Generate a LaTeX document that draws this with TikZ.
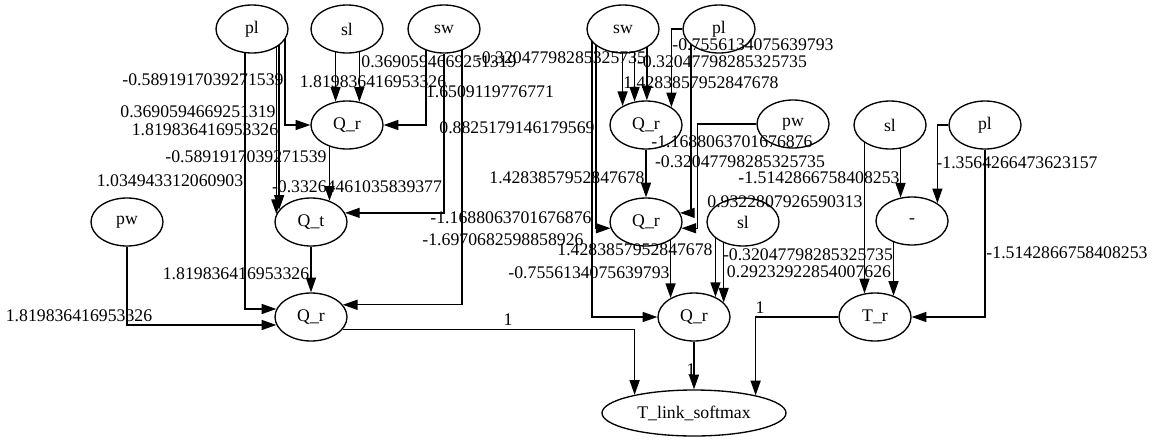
\documentclass[tikz,border=0pt]{standalone}
\usepackage{fontspec}
\setmainfont{Liberation Serif}
\usetikzlibrary{shapes.geometric,arrows.meta,calc,backgrounds}

\tikzset{
  op/.style={ellipse, draw, fill=white, line width=1pt, inner sep=0pt,
    minimum width=54pt, minimum height=36pt, font=\fontsize{13.3}{16}\selectfont},
  wt/.style={inner sep=0pt, font=\fontsize{13.3}{16}\selectfont},
  arr/.style={-{Triangle[length=11pt,width=7.5pt]}, line width=1pt},
}

\begin{document}
\begin{tikzpicture}[x=0.75pt,y=-0.75pt]
\useasboundingbox (0,0) rectangle (1155,443);
% left block
\node[op] (plA) at (252,29) {pl};
\node[op] (slA) at (347,29) {sl};
\node[op] (swA) at (444,29) {sw};
\node[op] (QrA) at (347,125) {Q\_r};
\node[op] (pwA) at (127,222) {pw};
\node[op] (Qt)  at (311,222) {Q\_t};
\node[op] (QrB) at (311,317) {Q\_r};
% middle block
\node[op] (swB) at (623,29) {sw};
\node[op] (plB) at (719,29) {pl};
\node[op] (QrC) at (646,125) {Q\_r};
\node[op] (pwB) at (793,124) {pw};
\node[op] (QrD) at (646,222) {Q\_r};
\node[op] (slB) at (743,222) {sl};
\node[op] (QrE) at (694,317) {Q\_r};
\node[op, minimum width=138pt, minimum height=34.5pt] (Tlink) at (694,413) {T\_link\_softmax};
% right block
\node[op] (slC) at (890,125) {sl};
\node[op] (plC) at (985,125) {pl};
\node[op] (minus) at (912,221) {-};
\node[op] (Tr) at (875,317) {T\_r};

\begin{pgfonlayer}{background}
% into QrA
\draw[arr] ($(plA)+(33,0)$) |- (QrA.west);
\draw[arr] (QrA.116 |- slA) -- (QrA.116);
\draw[arr] (QrA.62 |- slA) -- (QrA.62);
\draw[arr] ($(swA)+(-18,0)$) |- (QrA.east);
% into Qt
\draw[arr] (Qt.167 |- plA) -- (Qt.167);
\draw[arr] (Qt.159 |- plA) -- (Qt.159);
\draw[arr] (Qt.49 |- QrA) -- (Qt.49);
\draw[arr] (swA) |- (Qt.15);
% into QrB
\draw[arr] (Qt) -- (QrB);
\draw[arr] ($(plA)+(-7,0)$) |- (QrB.167);
\draw[arr] (pwA) |- (QrB.193);
\draw[arr] ($(swA)+(18,0)$) |- (QrB.21);
% into QrC
\draw[arr] (QrC.141 |- swB) -- (QrC.141);
\draw[arr] (QrC.116 |- swB) -- (QrC.116);
\draw[arr] (QrC.88 |- swB) -- (QrC.88);
\draw[arr] (plB) -| (QrC.35);
% into QrD
\draw[arr] (QrC) -- (QrD);
\draw[arr] ($(swB)+(-27,0)$) |- (QrD.190);
\draw[arr] ($(plB)+(-28,0)$) |- (QrD.15);
\draw[arr] (pwB.west) -- ++(-59,0) |- (QrD.350);
% into QrE
\draw[arr] (QrE.141 |- QrD) -- (QrE.141);
\draw[arr] (QrE.43 |- slB) -- (QrE.43);
\draw[arr] (QrE.26 |- slB) -- (QrE.26);
\draw[arr] ($(swB)+(-31,0)$) |- (QrE.west);
% right block
\draw[arr] (minus.116 |- slC) -- (minus.116);
\draw[arr] (plC) -| (minus.35);
\draw[arr] (Tr.114 |- slC) -- (Tr.114);
\draw[arr] (Tr.49 |- minus) -- (Tr.49);
\draw[arr] (plC) |- (Tr.east);
% into Tlink
\draw[arr] (QrB.339) -| (Tlink.163);
\draw[arr] (QrE) -- (Tlink);
\draw[arr] (Tr) -| (Tlink.16);
\end{pgfonlayer}

% weights
\node[wt] (w1) at (203,80) {-0.5891917039271539};
\node[wt] (w2) at (198,112) {0.3690594669251319};
\node[wt] (w3) at (205,130) {1.819836416953326};
\node[wt] (w4) at (246,157) {-0.5891917039271539};
\node[wt] (w5) at (170,181) {1.034943312060903};
\node[wt] (w6) at (357,187) {-0.33264461035839377};
\node[wt] (w7) at (439,62) {0.3690594669251319};
\node[wt] (w8) at (373,82) {1.819836416953326};
\node[wt] (w9) at (490,92) {1.6509119776771};
\node[wt] (w10) at (517,128) {0.8825179146179569};
\node[wt] (w11) at (511,218) {-1.1688063701676876};
\node[wt] (w12) at (503,240) {-1.6970682598858926};
\node[wt] (w13) at (236,274) {1.819836416953326};
\node[wt] (w14) at (79,316) {1.819836416953326};
\node[wt] (w15) at (561,58) {-0.32047798285325735};
\node[wt] (w16) at (722,62) {-0.32047798285325735};
\node[wt] (w17) at (753,45) {-0.7556134075639793};
\node[wt] (w18) at (701,83) {1.4283857952847678};
\node[wt] (w19) at (567,178) {1.4283857952847678};
\node[wt] (w20) at (732,142) {-1.1688063701676876};
\node[wt] (w21) at (740,162) {-0.32047798285325735};
\node[wt] (w22) at (819,178) {-1.5142866758408253};
\node[wt] (w23) at (785,202) {0.9322807926590313};
\node[wt] (w24) at (635,250) {1.4283857952847678};
\node[wt] (w25) at (589,273) {-0.7556134075639793};
\node[wt] (w26) at (808,255) {-0.32047798285325735};
\node[wt] (w27) at (809,272) {0.29232922854007626};
\node[wt] (w28) at (1017,163) {-1.3564266473623157};
\node[wt] (w29) at (1067,253) {-1.5142866758408253};
\node[wt] (w30) at (508,320) {1};
\node[wt] (w31) at (691,370) {1};
\node[wt] (w32) at (760,308) {1};
\end{tikzpicture}
\end{document}
